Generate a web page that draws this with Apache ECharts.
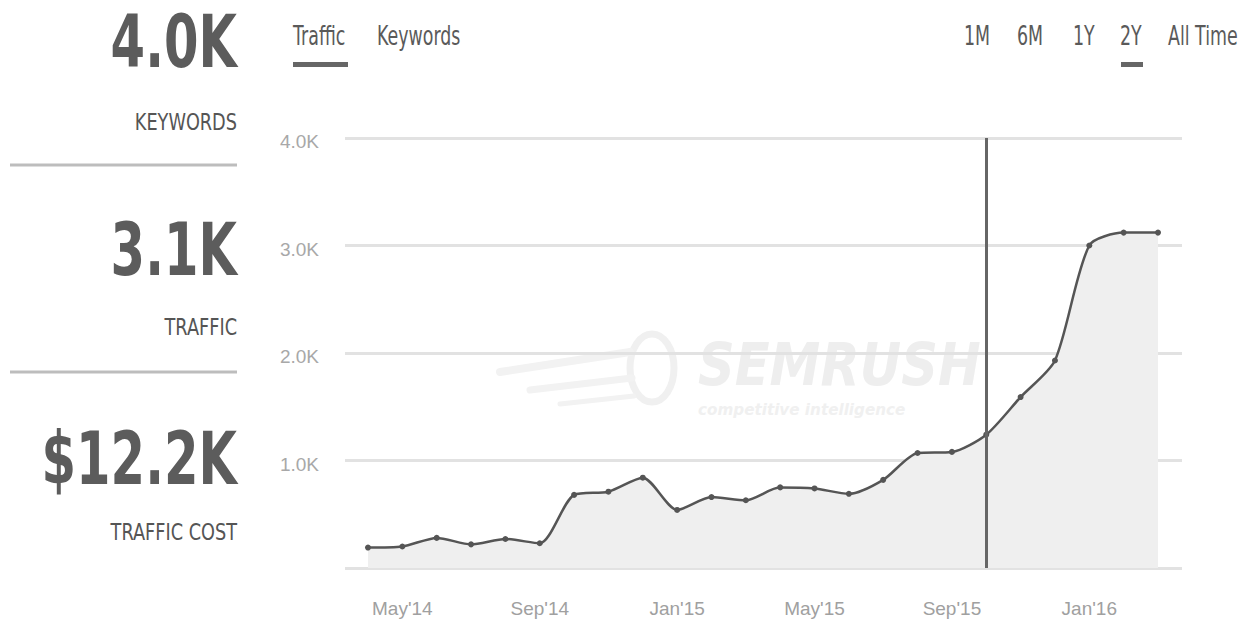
<!DOCTYPE html>
<html><head><meta charset="utf-8">
<script src="https://cdn.jsdelivr.net/npm/echarts@6/dist/echarts.min.js"></script>
<style>html,body{margin:0;padding:0;background:#fff}#c{width:1248px;height:627px}</style>
</head><body><div id="c"></div>
<script>
const months = ["Apr'14","May'14","Jun'14","Jul'14","Aug'14","Sep'14","Oct'14","Nov'14","Dec'14","Jan'15","Feb'15","Mar'15","Apr'15","May'15","Jun'15","Jul'15","Aug'15","Sep'15","Oct'15","Nov'15","Dec'15","Jan'16","Feb'16","Mar'16"];
const traffic = [190,200,280,220,270,230,680,710,840,540,660,630,750,740,690,820,1070,1080,1240,1590,1930,3000,3120,3120];
const yTicks = [0,1000,2000,3000,4000];
const xLabelMonths = ["May'14","Sep'14","Jan'15","May'15","Sep'15","Jan'16"];
const markerMonth = "Oct'15";
const summaryValues = ["4.0K","3.1K","$12.2K"];
const summaryLabels = ["KEYWORDS","TRAFFIC","TRAFFIC COST"];
const tabs = ["Traffic","Keywords"];
const ranges = ["1M","6M","1Y","2Y","All Time"];

const FONT = "'DejaVu Sans',sans-serif";
const AXFONT = "'Liberation Sans','DejaVu Sans',sans-serif";
const chart = echarts.init(document.getElementById('c'), null, {renderer:'svg'});

function txt(t, x, y, font, fill, align, sx, z){
  return {type:'text', x:x, y:y, scaleX:sx, z:z||10,
    style:{text:t, font:font, fill:fill, textAlign:align, textVerticalAlign:'middle'}};
}
const g = [];
// left summary panel
const valY = [42, 250, 459], labY = [122, 327, 532];
summaryValues.forEach((v,i)=>{
  g.push(txt(v, 237, valY[i], "bold 73px "+FONT, '#5c5c5c', 'right', 0.68));
  g.push(txt(summaryLabels[i], 237, labY[i], "23px "+FONT, '#555', 'right', 0.77));
});
[165, 372].forEach(y=>g.push({type:'rect', shape:{x:10,y:y-1.5,width:227,height:3}, style:{fill:'#bdbdbd'}}));
// tabs
const tabX = [293, 377];
tabs.forEach((t,i)=>g.push(txt(t, tabX[i], 36, "26px "+FONT, '#5a5a5a', 'left', 0.67)));
g.push({type:'rect', shape:{x:293,y:62,width:55,height:5}, style:{fill:'#666'}});
const rangeX = [964, 1017, 1073, 1120, 1168];
ranges.forEach((t,i)=>g.push(txt(t, rangeX[i], 36, "26px "+FONT, '#5a5a5a', 'left', 0.67)));
g.push({type:'rect', shape:{x:1121,y:62,width:22,height:5}, style:{fill:'#666'}});
// faint watermark
g.push({type:'ellipse', z:-1, shape:{cx:652, cy:368, rx:22, ry:34}, style:{fill:'none', stroke:'#f0f0f0', lineWidth:7}});
[[500,372,630,352,8],[530,390,632,378,7],[560,404,634,396,5]].forEach(s=>
  g.push({type:'line', z:-1, shape:{x1:s[0],y1:s[1],x2:s[2],y2:s[3]}, style:{stroke:'#f2f2f2', lineWidth:s[4], lineCap:'round'}}));
g.push(txt('SEMRUSH', 698, 365, "italic bold 58px "+FONT, '#eeeeee', 'left', 0.88, -1));
g.push(txt('competitive intelligence', 698, 410, "italic bold 16px "+FONT, '#f0f0f0', 'left', 0.95, -1));

chart.setOption({
  animation:false,
  graphic:g,
  grid:[
    {left:345, right:66, top:138, bottom:59},
    {left:368, right:90, top:138, bottom:59}
  ],
  xAxis:[
    {gridIndex:0, type:'value', show:false, min:0, max:1},
    {gridIndex:1, type:'category', data:months, boundaryGap:false,
     axisLine:{show:false}, axisTick:{show:false},
     axisLabel:{interval:(idx,val)=>xLabelMonths.includes(val), color:'#a0a0a0', fontSize:19, fontFamily:AXFONT, margin:31}}
  ],
  yAxis:[
    {gridIndex:0, type:'value', min:yTicks[0], max:yTicks[yTicks.length-1], interval:1000,
     axisLine:{show:false}, axisTick:{show:false},
     splitLine:{lineStyle:{color:'#e2e2e2', width:3}},
     axisLabel:{formatter:v=>v===0?'':(v/1000).toFixed(1)+'K', color:'#a8a8a8', fontSize:19, fontFamily:AXFONT, margin:26, verticalAlign:'top', padding:[-6,0,0,0]}},
    {gridIndex:1, type:'value', min:0, max:4000, show:false, splitLine:{show:false}}
  ],
  series:[{
    type:'line', xAxisIndex:1, yAxisIndex:1, data:traffic, smooth:0.25,
    symbol:'circle', symbolSize:6, itemStyle:{color:'#555'},
    lineStyle:{color:'#555', width:2.5},
    areaStyle:{color:'#efefef', opacity:1},
    markLine:{silent:true, symbol:['none','none'], label:{show:false},
      lineStyle:{color:'#666', width:3, type:'solid'}, data:[{xAxis:markerMonth}]}
  }]
});
</script></body></html>
